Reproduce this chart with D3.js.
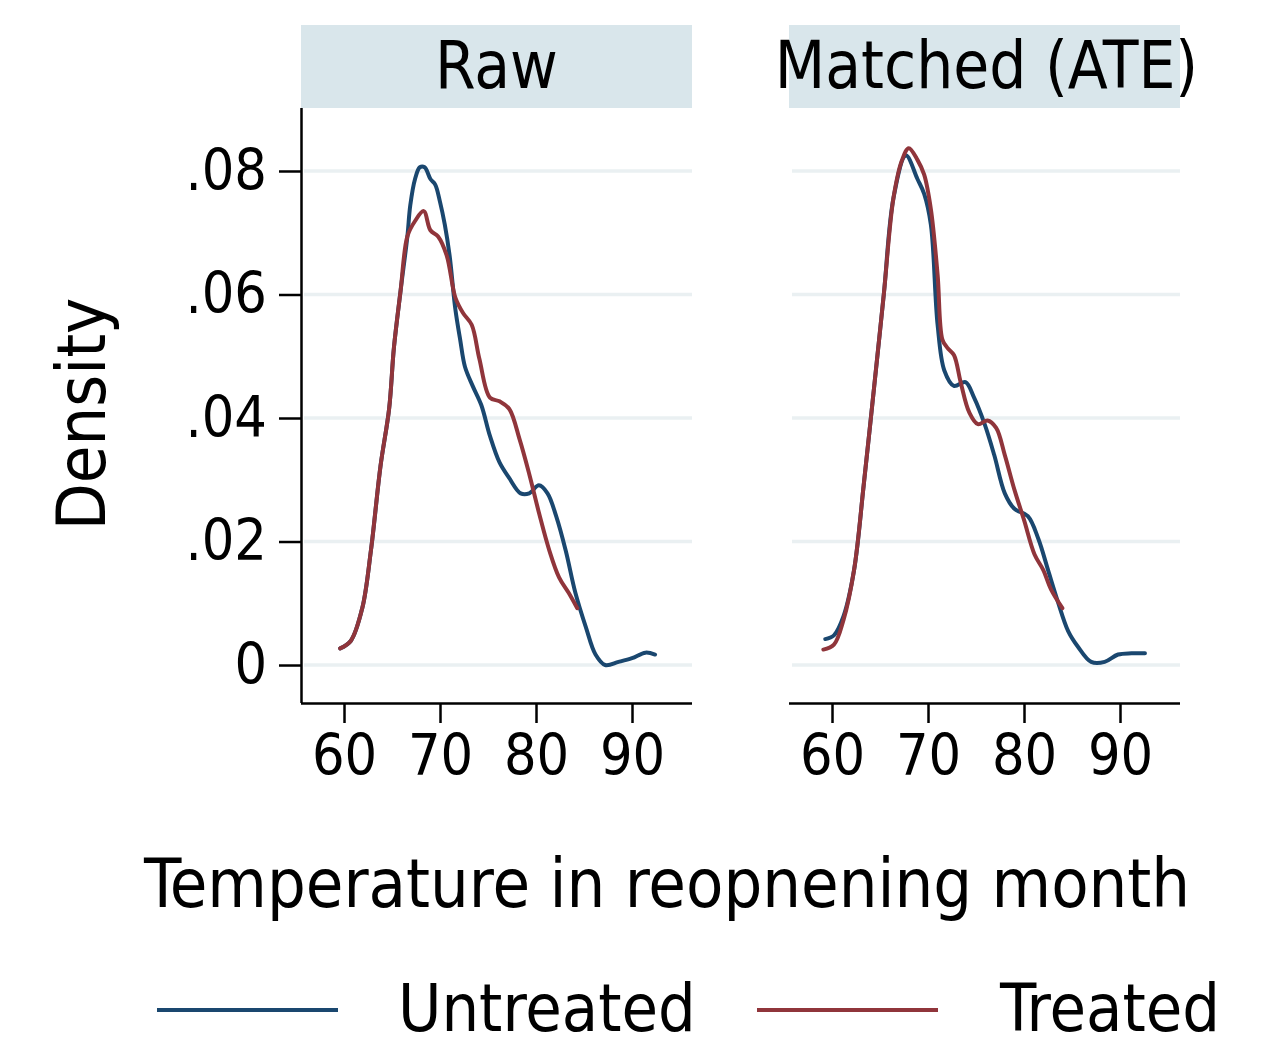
<!DOCTYPE html>
<html>
<head>
<meta charset="utf-8">
<script src="https://cdn.jsdelivr.net/npm/d3@7"></script>
<style>
  html, body { margin: 0; padding: 0; background: #fff; }
  svg text { font-family: "DejaVu Sans Condensed", "DejaVu Sans", sans-serif; fill: #000; }
</style>
</head>
<body>
<svg id="chart" width="1272" height="1048"></svg>
<script>
// ---- data ----
const panels = ["Raw", "Matched (ATE)"];
const seriesNames = ["Untreated", "Treated"];
const seriesColors = ["#1a476f", "#90353b"];
const xTicks = [60, 70, 80, 90];
const yTicks = [0, 0.02, 0.04, 0.06, 0.08];
const yTickLabels = ["0", ".02", ".04", ".06", ".08"];

// Raw panel
const rawUntreatedTemp = [59.6,60.7,61.9,62.8,63.8,64.7,65.2,65.9,66.6,66.9,67.4,67.9,68.4,69.0,69.5,70.0,70.5,71.0,71.6,72.1,72.6,73.4,74.3,75.2,76.2,77.2,78.4,79.3,80.3,81.2,82.1,83.1,84.1,85.2,86.2,87.2,88.6,90.0,91.4,92.4];
const rawUntreatedDens = [0.0027,0.0039,0.0092,0.0185,0.0322,0.0415,0.0514,0.0607,0.0694,0.0744,0.0787,0.0806,0.0806,0.0787,0.0778,0.0750,0.0713,0.0663,0.0576,0.0527,0.0483,0.0452,0.0421,0.0371,0.0328,0.0303,0.0278,0.0278,0.0291,0.0278,0.0241,0.0185,0.0117,0.0061,0.0017,0.0000,0.0005,0.0011,0.0020,0.0017];
const rawTreatedTemp = [59.6,60.7,61.9,62.8,63.8,64.7,65.2,65.9,66.6,67.4,68.3,69.0,69.8,70.7,71.6,72.4,73.3,74.1,75.2,76.2,77.2,78.3,79.3,80.3,81.4,82.4,83.4,84.3];
const rawTreatedDens = [0.0027,0.0039,0.0092,0.0185,0.0322,0.0415,0.0514,0.0607,0.0694,0.0719,0.0735,0.0704,0.0694,0.0663,0.0595,0.0570,0.0551,0.0496,0.0433,0.0427,0.0415,0.0365,0.0309,0.0247,0.0185,0.0142,0.0117,0.0092];

// Matched panel
const matUntreatedTemp = [59.3,60.2,61.2,62.3,63.3,64.4,65.4,66.4,67.7,68.9,69.6,70.3,71.0,71.7,72.7,73.9,74.8,75.9,76.9,78.0,79.0,80.4,81.5,82.5,83.5,84.6,85.6,87.0,88.4,89.8,91.2,92.6];
const matUntreatedDens = [0.0042,0.0048,0.0079,0.0154,0.0291,0.0452,0.0601,0.0756,0.0825,0.0787,0.0763,0.0713,0.0551,0.0477,0.0452,0.0458,0.0433,0.0390,0.0340,0.0278,0.0253,0.0241,0.0204,0.0154,0.0104,0.0055,0.0030,0.0005,0.0005,0.0017,0.0019,0.0019];
const matTreatedTemp = [59.1,60.2,61.2,62.3,63.3,64.4,65.4,66.4,67.3,68.0,68.9,69.6,70.3,71.0,71.5,72.0,72.7,73.4,74.3,75.2,76.2,77.1,78.0,79.0,80.0,81.1,82.0,82.8,84.0];
const matTreatedDens = [0.0025,0.0033,0.0073,0.0154,0.0291,0.0452,0.0601,0.0756,0.0818,0.0837,0.0818,0.0794,0.0738,0.0632,0.0527,0.0514,0.0502,0.0458,0.0409,0.0390,0.0396,0.0384,0.0340,0.0284,0.0235,0.0179,0.0154,0.0123,0.0092];

const panelData = [
  [d3.zip(rawUntreatedTemp, rawUntreatedDens), d3.zip(rawTreatedTemp, rawTreatedDens)],
  [d3.zip(matUntreatedTemp, matUntreatedDens), d3.zip(matTreatedTemp, matTreatedDens)]
];

// ---- layout ----
const svg = d3.select("#chart");
const panelLeft = [301, 789];
const panelWidth = 391;
const plotTop = 108, plotBottom = 703;
const stripTop = 25;
const fsTick = 57, fsTitle = 68, fsStrip = 65, fsLegend = 66;

const y = d3.scaleLinear().domain([-0.00615, 0.0902]).range([plotBottom, plotTop]);

panels.forEach((title, p) => {
  const x0 = panelLeft[p];
  const x = d3.scaleLinear().domain([55.52, 96.25]).range([x0, x0 + panelWidth]);
  const g = svg.append("g");

  // strip
  g.append("rect").attr("x", x0).attr("y", stripTop).attr("width", panelWidth)
    .attr("height", plotTop - stripTop).attr("fill", "#d9e6eb");
  g.append("text").attr("x", x0 + panelWidth / 2 + (p === 0 ? 0 : 2)).attr("y", 88)
    .attr("text-anchor", "middle").style("font-size", fsStrip + "px").text(title);

  // gridlines
  g.selectAll(".grid").data(yTicks).enter().append("line")
    .attr("x1", x0 + 3).attr("x2", x0 + panelWidth)
    .attr("y1", d => y(d)).attr("y2", d => y(d))
    .attr("stroke", "#eaf0f2").attr("stroke-width", 3.5);

  // x axis
  const xAxis = d3.axisBottom(x).tickValues(xTicks).tickSize(20).tickPadding(12).tickFormat(d3.format("d"));
  const xa = g.append("g").attr("transform", `translate(0,${plotBottom})`).call(xAxis);
  xa.select(".domain").attr("d", `M${x0},0.5H${x0 + panelWidth}`).attr("stroke", "#000").attr("stroke-width", 2.5);
  xa.selectAll(".tick line").attr("stroke", "#000").attr("stroke-width", 2.5);
  xa.selectAll(".tick text").style("font-size", fsTick + "px")
    .style("font-family", "'DejaVu Sans Condensed','DejaVu Sans',sans-serif").attr("dy", "0.71em");

  // y axis only on first panel
  if (p === 0) {
    const yAxis = d3.axisLeft(y).tickValues(yTicks).tickSize(22).tickPadding(12)
      .tickFormat((d, i) => yTickLabels[i]);
    const ya = g.append("g").attr("transform", `translate(${x0},0)`).call(yAxis);
    ya.select(".domain").attr("d", `M0.5,${plotTop}V${plotBottom}`).attr("stroke", "#000").attr("stroke-width", 2.5);
    ya.selectAll(".tick line").attr("stroke", "#000").attr("stroke-width", 2.5);
    ya.selectAll(".tick text").style("font-size", fsTick + "px")
      .style("font-family", "'DejaVu Sans Condensed','DejaVu Sans',sans-serif");
  }

  // lines
  const line = d3.line().x(d => x(d[0])).y(d => y(d[1])).curve(d3.curveCatmullRom.alpha(0.5));
  panelData[p].forEach((s, i) => {
    g.append("path").datum(s).attr("d", line).attr("fill", "none")
      .attr("stroke", seriesColors[i]).attr("stroke-width", 4)
      .attr("stroke-linejoin", "round").attr("stroke-linecap", "round");
  });
});

// axis titles
svg.append("text").attr("transform", "translate(105,414) rotate(-90)")
  .attr("text-anchor", "middle").style("font-size", fsTitle + "px").text("Density");
svg.append("text").attr("x", 667).attr("y", 907)
  .attr("text-anchor", "middle").style("font-size", fsTitle + "px").text("Temperature in reopnening month");

// legend
const legX = [157, 757];
const legTextX = [398, 1000];
seriesNames.forEach((name, i) => {
  svg.append("line").attr("x1", legX[i]).attr("x2", legX[i] + 181)
    .attr("y1", 1010).attr("y2", 1010)
    .attr("stroke", seriesColors[i]).attr("stroke-width", 4);
  svg.append("text").attr("x", legTextX[i]).attr("y", 1031)
    .style("font-size", fsLegend + "px").text(name);
});
</script>
</body>
</html>
